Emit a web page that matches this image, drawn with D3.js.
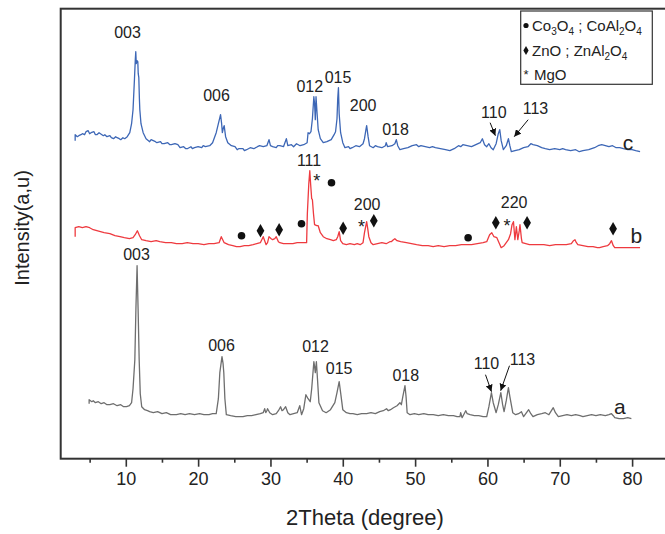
<!DOCTYPE html>
<html><head><meta charset="utf-8">
<script src="https://cdn.jsdelivr.net/npm/d3@7"></script>
<style>body{margin:0;background:#fff}svg{display:block}text{font-family:"Liberation Sans",Arial,sans-serif;fill:#222}</style>
</head><body>
<script>
// ---- data: [2theta (deg), intensity (a.u., stacked as plotted)] ----
const seriesC = [[3.0,318],[3.0,324],[3.3,322],[3.5,323],[3.8,324],[4.0,325],[4.3,324],[4.5,327],[4.8,328],[5.0,325],[5.2,326],[5.6,327],[5.8,324],[6.0,324],[6.3,326],[6.5,325],[6.9,323],[7.1,324],[7.4,322],[7.8,323],[8.0,321],[8.3,320],[8.6,322],[8.8,321],[9.1,320],[9.3,319],[9.6,321],[9.85,320],[10.2,322],[10.55,326],[10.8,335],[11.0,349],[11.2,380],[11.32,400],[11.38,407],[11.45,395],[11.55,398],[11.66,397],[11.72,385],[11.8,381],[11.88,360],[11.94,349],[12.1,335],[12.4,326],[12.8,320],[13.3,317],[13.5,319],[13.8,318],[14.1,317],[14.3,316],[14.8,317],[15.0,315],[15.3,315],[15.8,316],[16.1,314],[16.3,314],[16.8,315],[17.2,314],[17.5,311],[18.0,312],[18.3,310],[18.5,310],[19.0,312],[19.2,310],[19.5,311],[20.0,312],[20.5,311],[20.7,313],[21.0,312],[21.6,313],[22.0,316],[22.5,326],[22.8,335],[23.1,344],[23.25,335],[23.35,326],[23.5,331],[23.6,333],[23.8,322],[24.1,316],[24.6,313],[25.1,312],[25.4,309],[25.6,310],[26.2,310],[26.4,308],[26.7,309],[27.2,311],[27.7,310],[28.2,312],[28.5,313],[29.0,312],[29.5,313],[29.8,319],[30.0,313],[30.3,312],[30.8,311],[31.0,313],[31.3,313],[31.8,312],[32.2,320],[32.4,313],[32.9,314],[33.2,312],[33.6,315],[34.1,313],[34.6,314],[35.07,316],[35.2,326],[35.4,325],[35.6,327],[35.8,340],[36.0,362],[36.1,355],[36.2,339],[36.3,362],[36.45,345],[36.6,329],[36.9,320],[37.3,316],[37.8,317],[38.4,319],[38.8,324],[39.0,327],[39.2,340],[39.3,360],[39.4,371],[39.5,345],[39.7,326],[40.0,316],[40.3,311],[40.8,312],[41.0,310],[41.3,311],[41.8,313],[42.3,312],[42.8,315],[43.0,320],[43.2,329],[43.3,333],[43.5,322],[43.7,313],[44.2,311],[44.5,313],[44.8,312],[45.4,311],[45.9,313],[46.0,316],[46.2,312],[46.8,313],[47.2,315],[47.4,319],[47.6,313],[47.9,309],[48.4,310],[49.0,311],[49.6,313],[50.2,314],[50.5,312],[50.8,313],[51.4,312],[52.0,311],[52.4,312],[52.8,311],[53.5,310],[54.2,309],[54.8,308],[55.4,310],[56.0,313],[56.3,312],[56.6,314],[57.2,313],[57.8,312],[58.4,314],[59.0,316],[59.3,320],[59.6,314],[59.9,312],[60.2,315],[60.5,311],[60.8,309],[61.2,315],[61.5,325],[61.7,329],[61.9,318],[62.2,309],[62.6,313],[62.9,320],[63.1,313],[63.3,307],[63.8,308],[64.4,309],[65.0,311],[65.6,312],[66.0,315],[66.3,314],[66.9,313],[67.5,311],[68.0,310],[68.6,309],[69.3,310],[70.0,309],[70.4,310],[70.8,309],[71.5,308],[72.2,309],[72.7,307],[73.2,308],[74.0,309],[74.8,311],[75.3,313],[75.8,314],[76.3,313],[76.8,312],[77.3,313],[77.8,311],[78.3,311],[78.8,310],[79.4,309],[80.0,309],[80.5,308],[81.1,307]];
const seriesB = [[3.0,222],[3.0,231],[3.5,232],[4.0,231],[4.5,232],[5.0,231],[5.5,229],[6.0,228],[6.5,227],[7.0,226],[7.8,225],[8.5,223],[9.2,222],[9.8,221],[10.5,220],[11.0,221],[11.3,224],[11.6,228],[11.9,223],[12.2,219],[12.8,218],[13.5,217],[14.2,218],[14.7,217],[15.5,216],[16.3,216],[17.0,215],[17.8,215],[18.5,216],[19.3,215],[20.0,215],[20.8,214],[21.5,215],[22.2,215],[22.9,216],[23.2,222],[23.4,219],[23.6,216],[24.2,214],[24.8,213],[25.3,212],[25.8,212],[26.4,213],[27.0,213],[27.6,214],[28.1,215],[28.6,216],[29.0,222],[29.2,218],[29.4,214],[29.6,216],[29.8,222],[30.1,220],[30.3,219],[30.6,220],[30.8,222],[31.1,217],[31.3,216],[31.8,215],[32.4,215],[33.1,215],[33.7,216],[34.3,216],[34.8,216],[35.0,216],[35.1,245],[35.3,275],[35.44,288],[35.55,275],[35.7,260],[35.8,259],[35.95,245],[36.1,234],[36.4,233],[36.6,233],[36.9,226],[37.3,222],[37.8,220],[38.3,219],[38.7,218],[39.1,219],[39.3,222],[39.5,227],[39.7,218],[40.0,215],[40.5,214],[41.0,215],[41.6,214],[42.0,215],[42.4,214],[42.8,216],[43.0,226],[43.3,237],[43.45,230],[43.6,222],[43.9,216],[44.2,214],[44.8,215],[45.4,216],[46.0,215],[46.5,217],[46.7,217],[47.0,219],[47.2,220],[47.5,218],[48.0,217],[48.8,216],[49.5,215],[50.2,214],[51.0,213],[51.8,213],[52.5,212],[53.2,213],[54.0,212],[54.8,213],[55.6,213],[56.4,214],[57.1,214],[57.8,214],[58.6,215],[59.4,216],[59.9,217],[60.3,224],[60.6,226],[60.9,222],[61.3,221],[61.6,216],[61.9,211],[62.3,213],[62.9,219],[63.2,225],[63.4,234],[63.6,237],[63.8,219],[64.0,232],[64.2,219],[64.4,228],[64.5,234],[64.7,220],[64.8,216],[65.3,215],[65.8,214],[66.3,214],[67.0,214],[67.8,214],[68.6,213],[69.4,214],[70.2,214],[70.9,214],[71.6,215],[71.9,218],[72.1,219],[72.3,216],[72.5,214],[73.2,213],[73.9,212],[74.6,212],[75.2,211],[75.5,211],[76.0,212],[76.6,213],[76.9,215],[77.15,218],[77.4,213],[77.6,211],[78.3,211],[79.0,211],[79.7,211],[80.4,211],[81.1,211]];
const seriesA = [[4.93,55],[4.93,59],[5.3,57],[5.5,58],[5.8,56],[6.2,57],[6.6,55],[7.0,56],[7.4,54],[7.8,54],[8.3,55],[8.8,53],[9.3,54],[9.7,52],[10.1,52],[10.5,53],[10.8,56],[11.0,70],[11.25,99],[11.4,150],[11.56,193],[11.7,150],[11.85,99],[12.0,65],[12.2,52],[12.6,49],[13.0,48],[13.3,47],[13.8,46],[14.4,47],[15.0,45],[15.6,46],[16.2,44],[17.0,44],[17.6,45],[18.2,44],[18.8,45],[19.5,44],[20.2,45],[20.8,44],[21.5,44],[22.0,45],[22.5,45],[22.8,60],[23.0,86],[23.3,102],[23.45,95],[23.55,86],[23.7,60],[23.9,44],[24.5,43],[25.2,42],[25.8,42],[26.2,42],[26.8,43],[27.4,43],[28.0,44],[28.6,45],[29.0,46],[29.2,50],[29.35,46],[29.5,48],[29.6,50],[29.9,46],[30.3,44],[30.8,45],[31.1,48],[31.4,52],[31.6,48],[31.8,49],[32.1,52],[32.4,46],[32.7,44],[33.2,45],[33.7,46],[34.05,53],[34.3,44],[34.6,50],[34.9,64],[35.2,60],[35.5,57],[35.7,70],[36.0,97],[36.1,92],[36.2,86],[36.35,97],[36.5,80],[36.7,56],[37.2,48],[37.7,46],[38.3,49],[38.9,56],[39.2,66],[39.5,77],[39.7,66],[40.0,49],[40.5,46],[41.0,45],[41.4,45],[42.0,44],[42.6,45],[43.3,45],[43.9,46],[44.5,45],[45.1,47],[45.6,48],[46.05,50],[46.3,48],[46.6,49],[47.0,51],[47.5,53],[47.9,56],[48.1,54],[48.3,62],[48.6,73],[48.75,62],[48.9,46],[49.3,44],[49.9,45],[50.5,44],[51.2,45],[51.8,44],[52.5,44],[53.2,43],[53.9,44],[54.6,43],[55.3,43],[55.8,42],[56.2,42],[56.3,46],[56.5,41],[57.0,48],[57.2,45],[57.6,44],[58.2,43],[58.8,43],[59.4,42],[59.9,42],[60.2,52],[60.55,66],[60.8,56],[61.2,46],[61.5,54],[61.85,66],[62.1,54],[62.3,47],[62.6,58],[62.9,71],[63.1,62],[63.5,46],[63.9,44],[64.3,45],[64.7,47],[65.0,42],[65.3,45],[65.7,49],[66.0,45],[66.3,42],[66.9,44],[67.5,45],[68.0,46],[68.5,44],[69.1,51],[69.4,46],[69.8,42],[70.4,43],[71.0,44],[71.6,43],[72.2,44],[72.8,43],[73.2,42],[73.8,43],[74.4,44],[75.0,43],[75.6,44],[76.3,43],[76.8,44],[77.15,45],[77.4,43],[77.6,41],[78.2,40],[78.8,40],[79.4,41],[79.9,40]];

const xMajorTicks = [10,20,30,40,50,60,70,80];
const xMinorTicks = [5,15,25,35,45,55,65,75,85];

// peak annotations [text, 2theta, intensity]
const labelsC = [["003",10.24,426],["006",22.54,363],["012",35.44,372],["015",39.35,381],["200",42.81,353],["018",47.29,329],["110",60.88,346],["113",66.64,350]];
const labelsB = [["111",35.34,298],["200",43.36,254],["220",63.69,256]];
const labelsA = [["003",11.48,204],["006",23.23,113],["012",36.23,112],["015",39.49,90],["018",48.71,83],["110",59.87,95],["113",64.85,99]];
const curveNames = [["c",79.45,316],["b",80.6,223],["a",78.3,52]];
// arrows [x0,y0,x1,y1]
const arrows = [[60.37,336,61.1,323],[65.63,339,63.7,322],[59.73,84,60.56,67],[63.05,93,61.83,68]];
// phase markers on curve b
const circlesB = [[26.0,223],[34.29,235],[38.44,276],[57.33,221]];
const diamondsB = [[28.62,228],[31.2,229],[40.05,230.5],[44.29,238],[61.16,236],[65.48,236],[77.37,230]];
const starsB = [[36.4,281],[42.59,235],[62.72,236]];

const W = 665, H = 534;
const svg = d3.select("body").append("svg").attr("width", W).attr("height", H);
const x = d3.scaleLinear().domain([1, 86]).range([60.7, 675.5]);
const y = d3.scaleLinear().domain([0, 450]).range([458.7, 8.7]);

const line = d3.line().x(d => x(d[0])).y(d => y(d[1]));
const drawSeries = (data, color) => svg.append("path").datum(data).attr("d", line)
  .attr("fill", "none").attr("stroke", color).attr("stroke-width", 1.3).attr("stroke-linejoin", "round");
drawSeries(seriesA, "#6e6e6e");
drawSeries(seriesB, "#ee3a3f");
drawSeries(seriesC, "#3d67b6");

// frame
svg.append("rect").attr("x", x(1)).attr("y", y(450)).attr("width", x(86) - x(1)).attr("height", y(0) - y(450))
  .attr("fill", "none").attr("stroke", "#333").attr("stroke-width", 2);

// axis
const gx = svg.append("g").attr("transform", `translate(0,${y(0)})`);
gx.call(d3.axisBottom(x).tickValues(xMajorTicks).tickSize(8).tickPadding(6).tickFormat(d3.format("d")));
const gm = svg.append("g").attr("transform", `translate(0,${y(0)})`);
gm.call(d3.axisBottom(x).tickValues(xMinorTicks).tickSize(4).tickFormat(""));
[gx, gm].forEach(g => { g.select(".domain").remove(); g.selectAll("line").attr("stroke", "#333").attr("stroke-width", 1.6); });
gx.selectAll("text").attr("font-size", 18).attr("font-family", "Liberation Sans, Arial").attr("fill", "#222");

svg.append("text").attr("x", 365).attr("y", 525).attr("text-anchor", "middle").attr("font-size", 22).text("2Theta (degree)");
svg.append("text").attr("transform", "translate(29,228) rotate(-90)").attr("text-anchor", "middle").attr("font-size", 20).text("Intensity(a,u)");

// annotations
const addLabels = (arr, size) => svg.append("g").selectAll("text").data(arr).join("text")
  .attr("x", d => x(d[1])).attr("y", d => y(d[2])).attr("dy", "0.35em").attr("text-anchor", "middle")
  .attr("font-size", size).text(d => d[0]);
addLabels(labelsC, 16); addLabels(labelsB, 16); addLabels(labelsA, 16); addLabels(curveNames, 21);

// arrows
svg.append("defs").append("marker").attr("id", "ah").attr("viewBox", "0 0 10 10").attr("refX", 10).attr("refY", 5)
  .attr("markerWidth", 7).attr("markerHeight", 7).attr("markerUnits", "userSpaceOnUse").attr("orient", "auto")
  .append("path").attr("d", "M0,0 L10,5 L0,10 Z").attr("fill", "#111");
svg.append("g").selectAll("line").data(arrows).join("line")
  .attr("x1", d => x(d[0])).attr("y1", d => y(d[1])).attr("x2", d => x(d[2])).attr("y2", d => y(d[3]))
  .attr("stroke", "#111").attr("stroke-width", 1).attr("marker-end", "url(#ah)");

// markers
svg.append("g").selectAll("circle").data(circlesB).join("circle")
  .attr("cx", d => x(d[0])).attr("cy", d => y(d[1])).attr("r", 3.8).attr("fill", "#111");
const diamond = d3.symbol().type(d3.symbolDiamond).size(52);
svg.append("g").selectAll("path").data(diamondsB).join("path")
  .attr("transform", d => `translate(${x(d[0])},${y(d[1])})`).attr("d", diamond).attr("fill", "#111");
svg.append("g").selectAll("text").data(starsB).join("text")
  .attr("x", d => x(d[0])).attr("y", d => y(d[1]) + 9).attr("text-anchor", "middle").attr("font-size", 18).attr("fill", "#333").text("*");

// legend
const lg = svg.append("g");
lg.append("rect").attr("x", 520.7).attr("y", 11).attr("width", 131.6).attr("height", 73.3)
  .attr("fill", "#fff").attr("stroke", "#333").attr("stroke-width", 1.2);
lg.append("circle").attr("cx", 526).attr("cy", 25.5).attr("r", 2.6).attr("fill", "#111");
lg.append("path").attr("transform", "translate(526,50.5)").attr("d", d3.symbol().type(d3.symbolDiamond).size(24)).attr("fill", "#111");
lg.append("text").attr("x", 526).attr("y", 79).attr("text-anchor", "middle").attr("font-size", 13).attr("fill", "#555").text("*");
const t1 = lg.append("text").attr("x", 532).attr("y", 31).attr("font-size", 15);
t1.append("tspan").text("Co");
t1.append("tspan").attr("font-size", 10).attr("dy", 4).text("3");
t1.append("tspan").attr("dy", -4).text("O");
t1.append("tspan").attr("font-size", 10).attr("dy", 4).text("4");
t1.append("tspan").attr("dy", -4).text(" ; CoAl");
t1.append("tspan").attr("font-size", 10).attr("dy", 4).text("2");
t1.append("tspan").attr("dy", -4).text("O");
t1.append("tspan").attr("font-size", 10).attr("dy", 4).text("4");
const t2 = lg.append("text").attr("x", 532).attr("y", 56).attr("font-size", 15);
t2.append("tspan").text("ZnO ; ZnAl");
t2.append("tspan").attr("font-size", 10).attr("dy", 4).text("2");
t2.append("tspan").attr("dy", -4).text("O");
t2.append("tspan").attr("font-size", 10).attr("dy", 4).text("4");
lg.append("text").attr("x", 534).attr("y", 80).attr("font-size", 15).text("MgO");
</script>
</body></html>
